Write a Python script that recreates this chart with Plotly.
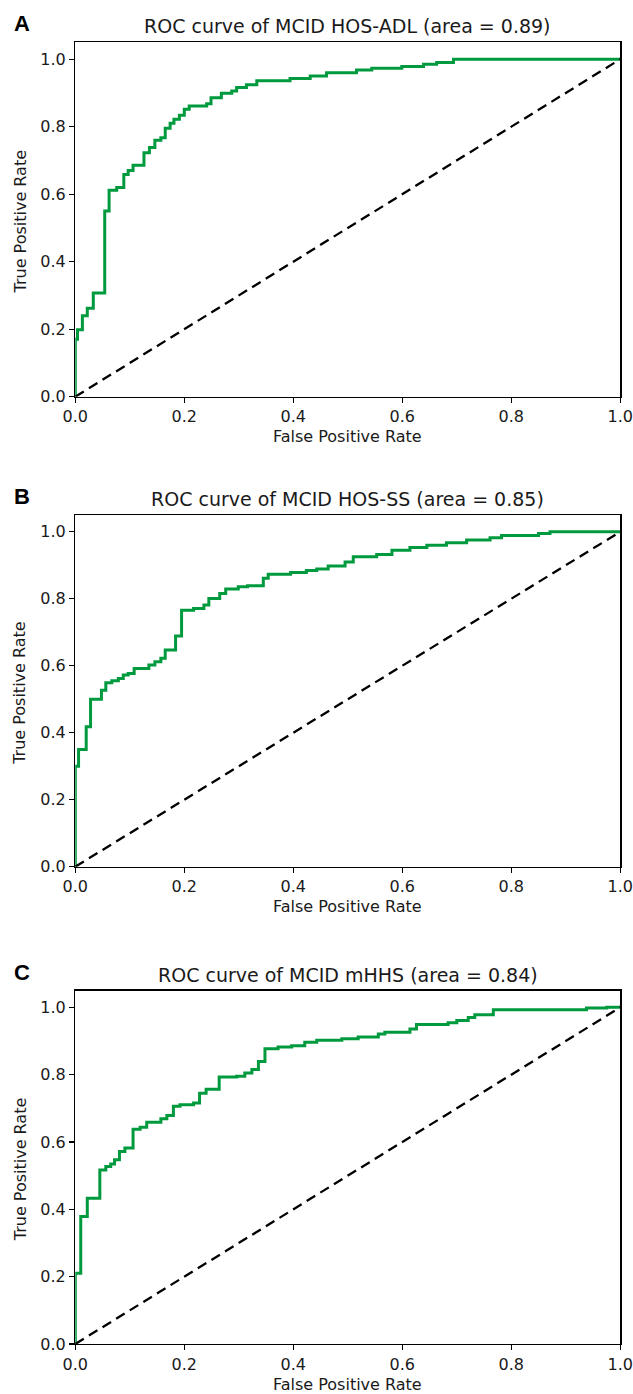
import plotly.graph_objects as go

# ---------------- data (ROC step points) ----------------
fpr_adl = [0, 0, 0.004, 0.013, 0.022, 0.033, 0.054, 0.062, 0.076, 0.089, 0.097, 0.106,
           0.126, 0.136, 0.146, 0.157, 0.165, 0.174, 0.181, 0.191, 0.200, 0.209, 0.241,
           0.249, 0.268, 0.287, 0.296, 0.314, 0.333, 0.394, 0.431, 0.461, 0.516, 0.544,
           0.599, 0.639, 0.663, 0.694, 1.0]
tpr_adl = [0, 0.17, 0.198, 0.24, 0.262, 0.307, 0.55, 0.612, 0.62, 0.658, 0.67, 0.686,
           0.723, 0.738, 0.76, 0.767, 0.795, 0.81, 0.822, 0.834, 0.852, 0.861, 0.868,
           0.886, 0.899, 0.906, 0.916, 0.924, 0.936, 0.943, 0.95, 0.96, 0.968, 0.973,
           0.978, 0.985, 0.99, 1.0, 1.0]

fpr_ss = [0, 0, 0.006, 0.020, 0.028, 0.048, 0.056, 0.067, 0.079, 0.088, 0.097, 0.108,
          0.135, 0.146, 0.157, 0.165, 0.184, 0.195, 0.217, 0.236, 0.245, 0.265, 0.276,
          0.299, 0.316, 0.345, 0.354, 0.395, 0.424, 0.443, 0.464, 0.495, 0.510, 0.553,
          0.581, 0.614, 0.645, 0.681, 0.718, 0.761, 0.782, 0.850, 0.871, 1.0]
tpr_ss = [0, 0.30, 0.35, 0.418, 0.50, 0.527, 0.549, 0.555, 0.562, 0.572, 0.577, 0.592,
          0.602, 0.612, 0.622, 0.647, 0.689, 0.766, 0.771, 0.781, 0.801, 0.816, 0.829,
          0.836, 0.839, 0.861, 0.873, 0.878, 0.884, 0.889, 0.898, 0.910, 0.925, 0.932,
          0.945, 0.953, 0.960, 0.967, 0.975, 0.982, 0.989, 0.995, 1.0, 1.0]

fpr_mhhs = [0, 0, 0.010, 0.022, 0.045, 0.056, 0.065, 0.072, 0.081, 0.091, 0.106, 0.119,
            0.131, 0.157, 0.168, 0.180, 0.192, 0.217, 0.228, 0.240, 0.264, 0.296, 0.311,
            0.324, 0.336, 0.348, 0.372, 0.397, 0.421, 0.443, 0.489, 0.519, 0.556, 0.568,
            0.614, 0.626, 0.684, 0.700, 0.721, 0.733, 0.767, 0.938, 0.975, 1.0]
tpr_mhhs = [0, 0.21, 0.379, 0.433, 0.517, 0.527, 0.535, 0.547, 0.572, 0.582, 0.638, 0.644,
            0.659, 0.669, 0.679, 0.706, 0.711, 0.716, 0.745, 0.757, 0.793, 0.795, 0.805,
            0.815, 0.839, 0.877, 0.882, 0.886, 0.896, 0.902, 0.907, 0.912, 0.921, 0.926,
            0.936, 0.949, 0.954, 0.961, 0.970, 0.978, 0.993, 0.998, 1.0, 1.0]

chance_x = [0, 1]
chance_y = [0, 1]

panel_letters = ["A", "B", "C"]
panel_titles = ["ROC curve of MCID HOS-ADL (area = 0.89)",
                "ROC curve of MCID HOS-SS (area = 0.85)",
                "ROC curve of MCID mHHS (area = 0.84)"]
tick_vals = [0.0, 0.2, 0.4, 0.6, 0.8, 1.0]
tick_text = ["0.0", "0.2", "0.4", "0.6", "0.8", "1.0"]
x_label = "False Positive Rate"
y_label = "True Positive Rate"

# ---------------- layout geometry (pixels) ----------------
W, H = 633, 1394
ax_left, ax_right = 75.3, 620.3
panels_px = [(42.3, 396.7), (515.0, 866.7), (990.5, 1344.0)]  # (top, bottom)

def px_x(p):
    return p / W

def px_y(p):
    return 1 - p / H

GREEN = "#009a3e"
FONT = "DejaVu Sans"

curves = [(fpr_adl, tpr_adl), (fpr_ss, tpr_ss), (fpr_mhhs, tpr_mhhs)]

fig = go.Figure()
annotations = []
layout_axes = {}

for i, ((fx, ty), (top, bot)) in enumerate(zip(curves, panels_px)):
    n = "" if i == 0 else str(i + 1)
    xa, ya = "x" + n, "y" + n
    fig.add_trace(go.Scatter(x=fx, y=ty, mode="lines", line=dict(color=GREEN, width=3, shape="hv"),
                             xaxis=xa, yaxis=ya, showlegend=False, hoverinfo="skip"))
    fig.add_trace(go.Scatter(x=chance_x, y=chance_y, mode="lines",
                             line=dict(color="black", width=2.3, dash="10px,6px"),
                             xaxis=xa, yaxis=ya, showlegend=False, hoverinfo="skip"))
    common = dict(showline=True, linecolor="black", linewidth=1.3, mirror=True,
                  ticks="outside", ticklen=5, tickwidth=1.3, tickcolor="black",
                  showgrid=False, zeroline=False, ticklabeloverflow="allow",
                  automargin=False,
                  tickvals=tick_vals, ticktext=tick_text,
                  tickfont=dict(family=FONT, size=16, color="#1a1a1a"))
    layout_axes["xaxis" + n] = dict(common, domain=[px_x(ax_left), px_x(ax_right)],
                                    range=[0, 1], anchor=ya)
    layout_axes["yaxis" + n] = dict(common, domain=[px_y(bot), px_y(top)],
                                    range=[0, 1.05], anchor=xa)
    # title
    annotations.append(dict(text=panel_titles[i], xref="paper", yref="paper",
                            x=px_x((ax_left + ax_right) / 2), y=px_y(top - 16),
                            xanchor="center", yanchor="middle", showarrow=False,
                            font=dict(family=FONT, size=19, color="#1a1a1a")))
    # panel letter
    annotations.append(dict(text="<b>" + panel_letters[i] + "</b>", xref="paper", yref="paper",
                            x=px_x(22), y=px_y(top - 18.5), xanchor="center", yanchor="middle",
                            showarrow=False,
                            font=dict(family="Liberation Sans", size=22, color="black")))
    # x label
    annotations.append(dict(text=x_label, xref="paper", yref="paper",
                            x=px_x((ax_left + ax_right) / 2), y=px_y(bot + 40),
                            xanchor="center", yanchor="middle", showarrow=False,
                            font=dict(family=FONT, size=16, color="#1a1a1a")))
    # y label
    annotations.append(dict(text=y_label, xref="paper", yref="paper",
                            x=px_x(20), y=px_y((top + bot) / 2 + 2),
                            xanchor="center", yanchor="middle", textangle=-90, showarrow=False,
                            font=dict(family=FONT, size=16, color="#1a1a1a")))

fig.update_layout(width=W, height=H, margin=dict(l=0, r=0, t=0, b=0, autoexpand=False),
                  paper_bgcolor="white", plot_bgcolor="white",
                  annotations=annotations, **layout_axes)

fig.write_html("out.html", config={"displayModeBar": False, "staticPlot": True},
               post_script="document.body.style.margin='0';document.body.style.overflow='hidden';")
